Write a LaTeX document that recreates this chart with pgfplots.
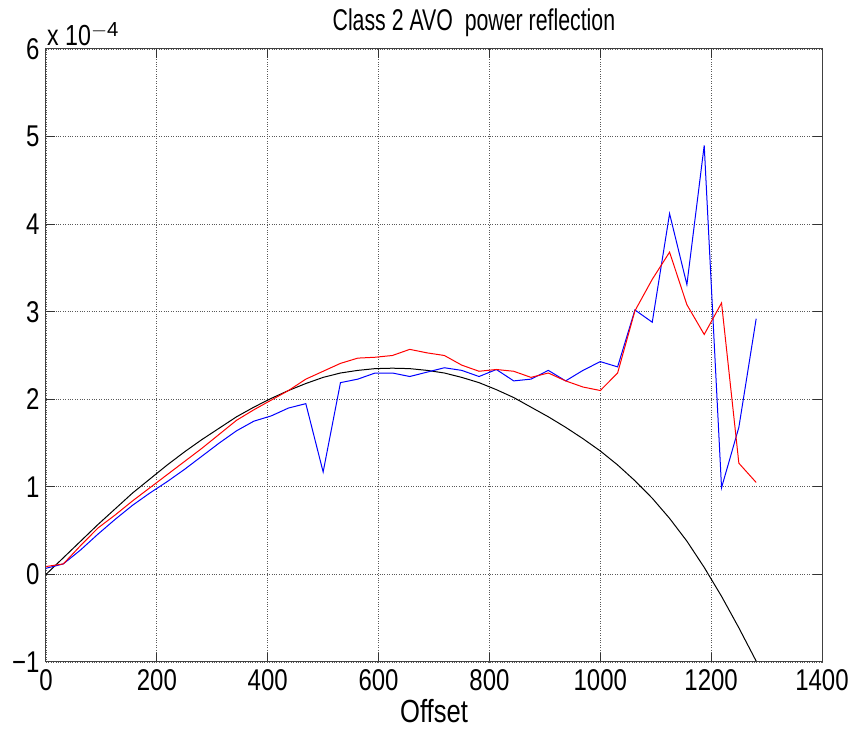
\documentclass[border=0pt]{standalone}
\usepackage{fontspec}
\setmainfont{Liberation Sans}
\newfontfamily\cond{Liberation Sans}[FakeStretch=0.8]
\newfontfamily\condt{Liberation Sans}[FakeStretch=0.71]
\usepackage{pgfplots}
\usepackage{pgfplotstable}
\pgfplotsset{compat=1.18}

% offset, model curve, measured (blue), smoothed (red); reflection in units of 1e-4
\pgfplotstableread{
off      model  blue  red
0        0.00   0.07  0.09
31.25    0.19   0.12  0.12
62.5     0.38   0.28  0.33
93.75    0.57   0.46  0.53
125      0.75   0.63  0.68
156.25   0.93   0.79  0.84
187.5    1.09   0.93  0.99
218.75   1.25   1.06  1.14
250      1.40   1.20  1.29
281.25   1.54   1.35  1.44
312.5    1.67   1.50  1.60
343.75   1.80   1.64  1.76
375      1.91   1.75  1.88
406.25   2.01   1.81  1.99
437.5    2.10   1.90  2.10
468.75   2.18   1.95  2.23
500      2.25   1.17  2.32
531.25   2.30   2.19  2.41
562.5    2.33   2.23  2.47
593.75   2.35   2.30  2.48
625      2.355  2.30  2.50
656.25   2.35   2.26  2.57
687.5    2.33   2.31  2.53
718.75   2.30   2.36  2.50
750      2.25   2.33  2.39
781.25   2.19   2.26  2.32
812.5    2.11   2.34  2.34
843.75   2.02   2.21  2.32
875      1.91   2.23  2.25
906.25   1.80   2.33  2.30
937.5    1.68   2.21  2.21
968.75   1.55   2.33  2.14
1000     1.41   2.43  2.10
1031.25  1.25   2.37  2.30
1062.5   1.07   3.02  3.01
1093.75  0.87   2.88  3.37
1125     0.64   4.12  3.68
1156.25  0.38   3.31  3.08
1187.5   0.08   4.90  2.74
1218.75  -0.25  0.99  3.10
1250     -0.61  1.68  1.27
1281.25  -0.99  2.92  1.05
}\avo

\begin{document}
\begin{tikzpicture}
\begin{axis}[
  scale only axis,
  width=776pt, height=613pt,
  xmin=0, xmax=1400, ymin=-1, ymax=6,
  xtick={0,200,...,1400},
  xticklabels={0,200,400,600,800,1000,1200,1400},
  ytick={-1,0,...,6},
  yticklabels={−1,0,1,2,3,4,5,6},
  tick label style={font=\cond\fontsize{30}{34}\selectfont, text=black},
  xticklabel style={yshift=-4pt},
  yticklabel style={xshift=-3pt},
  grid=major,
  grid style={black!65, dotted, line width=0.9pt},
  tick align=inside,
  major tick length=9pt,
  tick style={black!80, line width=1pt},
  axis line style={black!75, line width=1pt},
  xlabel={Offset},
  xlabel style={font=\cond\fontsize{32}{36}\selectfont, yshift=-2pt},
  clip=false,
]
\addplot[black, line width=1pt] table[x=off, y=model] {\avo};
\addplot[blue, line width=1pt] table[x=off, y=blue] {\avo};
\addplot[red, line width=1pt] table[x=off, y=red] {\avo};

\node[anchor=base, font=\condt\fontsize{30}{34}\selectfont]
  at (axis cs:772,6) [yshift=18pt] {Class 2 AVO\ \ power reflection};
\node[anchor=south west, inner sep=0pt, font=\cond\fontsize{29}{32}\selectfont]
  at (rel axis cs:0,1) [xshift=1pt, yshift=3pt] {x 10$^{\mathrm{-4}}$};
\end{axis}
\pgfresetboundingbox
\path[use as bounding box] ([xshift=-46pt,yshift=-67pt]current axis.south west)
  rectangle ([xshift=32pt,yshift=49pt]current axis.north east);
\end{tikzpicture}
\end{document}
